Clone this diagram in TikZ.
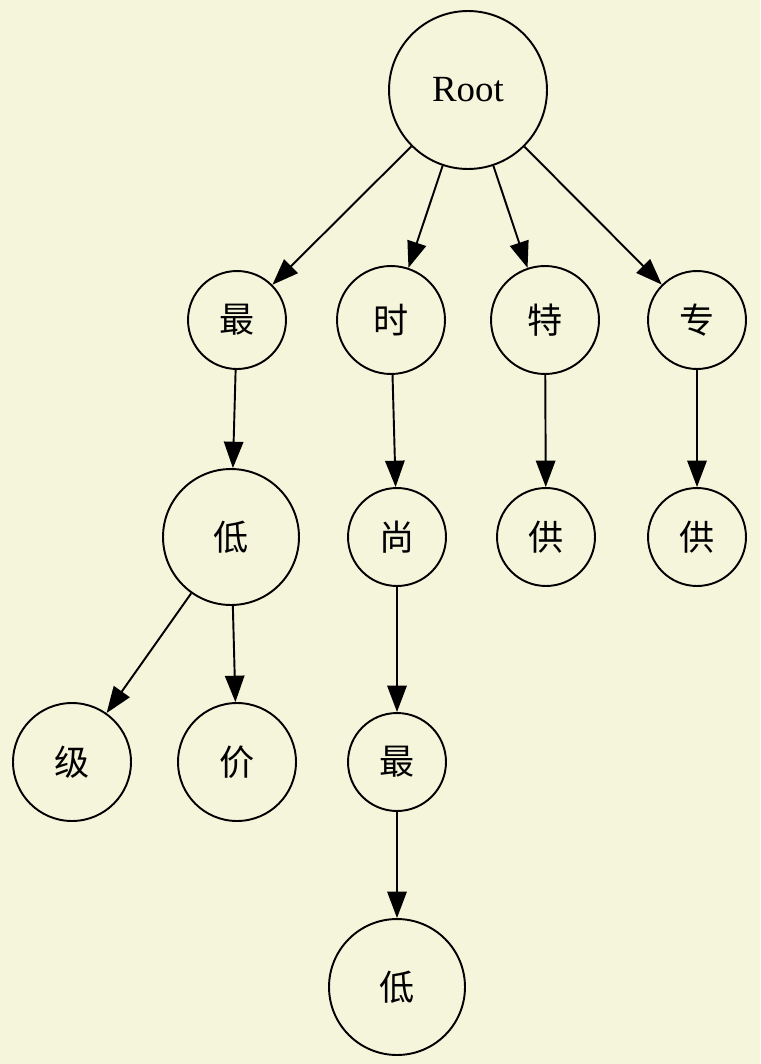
\documentclass[tikz,border=0pt]{standalone}
\usepackage{fontspec}
\setmainfont{Liberation Serif}
\newfontfamily\cjk{Noto Sans CJK SC}
\usetikzlibrary{arrows.meta}

\definecolor{bgbeige}{HTML}{F5F5DC}

\tikzset{
  trie/.style={draw, circle, line width=1.1pt, inner sep=0pt, font=\fontsize{20}{22}\selectfont},
  edge/.style={line width=1.1pt, -{Triangle[length=15pt,width=11pt]}}
}

\begin{document}
\begin{tikzpicture}[x=0.02cm, y=-0.02cm]
  % the background
  \fill[bgbeige] (0,0) rectangle (760,1064);
  \useasboundingbox (0,0) rectangle (760,1064);

  % the root
  \node[trie, minimum size=3.16cm, font=\fontsize{21}{23}\selectfont] (root) at (468,90) {Root};

  % first level
  \node[trie, minimum size=1.96cm] (zui) at (237,320) {\cjk 最};
  \node[trie, minimum size=2.16cm] (shi) at (391,320) {\cjk 时};
  \node[trie, minimum size=2.16cm] (te) at (545,320) {\cjk 特};
  \node[trie, minimum size=1.96cm] (zhuan) at (697,320) {\cjk 专};

  % second level
  \node[trie, minimum size=2.72cm] (di) at (231,537) {\cjk 低};
  \node[trie, minimum size=1.96cm] (shang) at (397,537) {\cjk 尚};
  \node[trie, minimum size=1.96cm] (gonga) at (546,537) {\cjk 供};
  \node[trie, minimum size=1.96cm] (gongb) at (697,537) {\cjk 供};

  % third level
  \node[trie, minimum size=2.36cm] (ji) at (72,762) {\cjk 级};
  \node[trie, minimum size=2.36cm] (jia) at (237,762) {\cjk 价};
  \node[trie, minimum size=1.96cm] (zuib) at (397,762) {\cjk 最};

  % fourth level
  \node[trie, minimum size=2.72cm] (dib) at (397,987) {\cjk 低};

  % draw the arrows
  \draw[edge] (root) -- (zui);
  \draw[edge] (root) -- (shi);
  \draw[edge] (root) -- (te);
  \draw[edge] (root) -- (zhuan);
  \draw[edge] (zui) -- (di);
  \draw[edge] (shi) -- (shang);
  \draw[edge] (te) -- (gonga);
  \draw[edge] (zhuan) -- (gongb);
  \draw[edge] (di) -- (ji);
  \draw[edge] (di) -- (jia);
  \draw[edge] (shang) -- (zuib);
  \draw[edge] (zuib) -- (dib);
\end{tikzpicture}
\end{document}
